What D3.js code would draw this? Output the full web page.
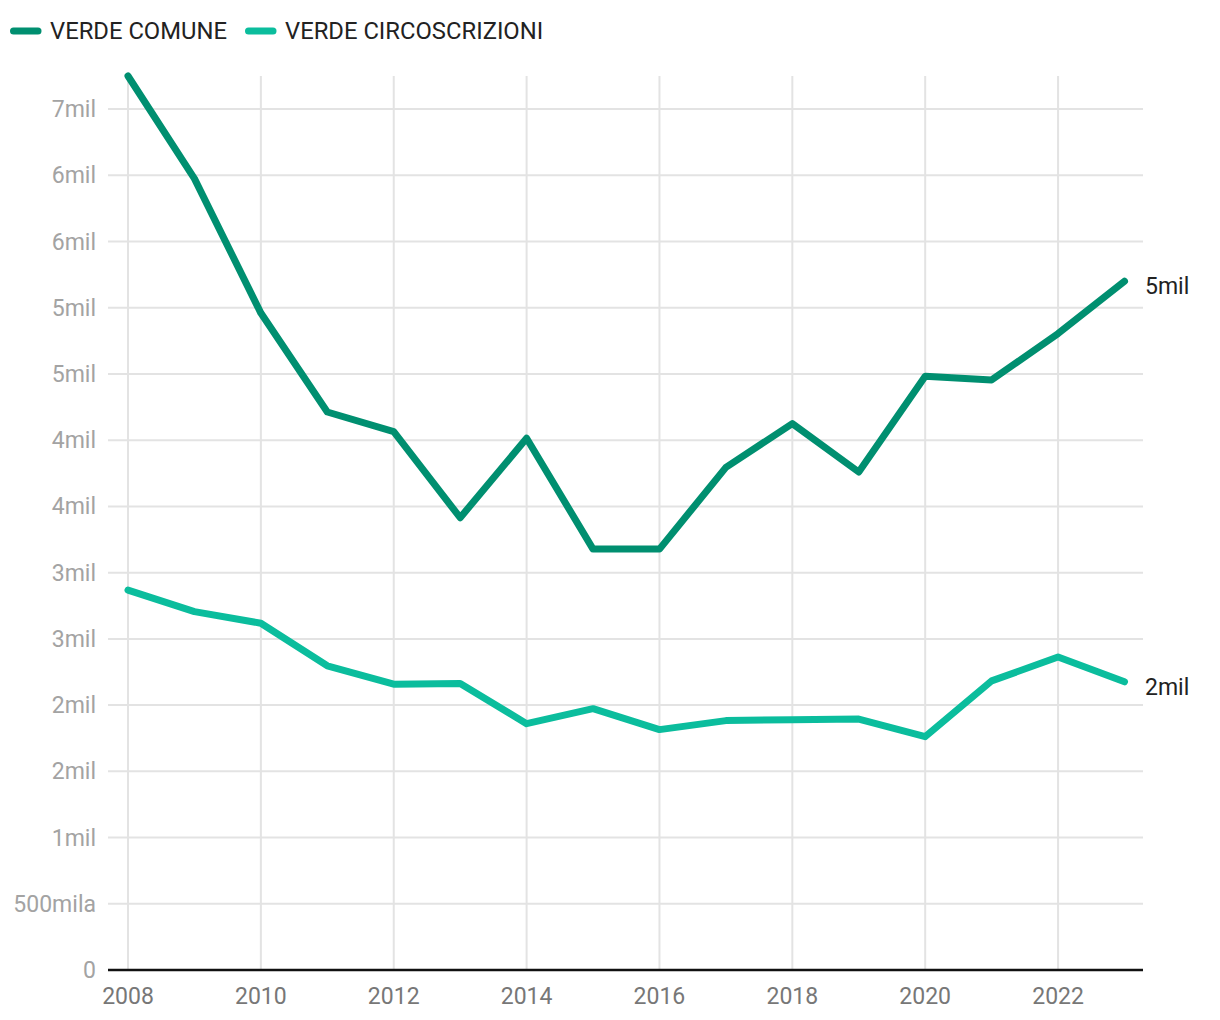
<!DOCTYPE html>
<html lang="it">
<head>
  <meta charset="UTF-8">
  <title>Verde comune e circoscrizioni</title>
  <style>
    body { margin: 0; background: #fff; font-family: Roboto, "Noto Sans", sans-serif; }
    .grid line { stroke: #e3e3e3; stroke-width: 2; }
    .ylab { fill: #a3a3a3; font-size: 23px; }
    .xlab { fill: #777; font-size: 23px; }
    .legend text { fill: #222; font-size: 23.8px; }
    .endlab { fill: #222; font-size: 23px; }
  </style>
  <script src="https://d3js.org/d3.v7.min.js"></script>
</head>
<body>
  <div id="chart"></div>
  <script>
    // anni
    var years = [2008, 2009, 2010, 2011, 2012, 2013, 2014, 2015, 2016, 2017, 2018, 2019, 2020, 2021, 2022, 2023];

    // valori in migliaia
    var verdeComune = [6750, 5975, 4960, 4213, 4065, 3415, 4015, 3178, 3178, 3795, 4125, 3760, 4483, 4455, 4805, 5200];
    var verdeCircoscrizioni = [2868, 2706, 2618, 2297, 2158, 2164, 1860, 1973, 1815, 1883, 1890, 1895, 1762, 2183, 2363, 2176];

    var seriesNames = ["VERDE COMUNE", "VERDE CIRCOSCRIZIONI"];
    var colors = ["#008f70", "#0bbd9d"];
    var yTicks = [0, 500, 1000, 1500, 2000, 2500, 3000, 3500, 4000, 4500, 5000, 5500, 6000, 6500];
    var xTicks = [2008, 2010, 2012, 2014, 2016, 2018, 2020, 2022];

    var W = 1220, H = 1020;
    var plotLeft = 108, plotRight = 1143, plotTop = 76, plotBottom = 970;

    var svg = d3.select("#chart").append("svg")
      .attr("width", W)
      .attr("height", H);

    var x = d3.scaleLinear().domain([2008, 2023]).range([128, 1124.5]);
    var y = d3.scaleLinear()
      .domain([0, d3.max(verdeComune.concat(verdeCircoscrizioni))])
      .range([plotBottom, plotTop]);

    function fmt(v) {
      if (v === 0) return "0";
      if (v < 1000) return v + "mila";
      return Math.round(v / 1000) + "mil";
    }

    // griglia
    var grid = svg.append("g").attr("class", "grid");
    grid.selectAll(".h").data(yTicks.slice(1)).enter().append("line")
      .attr("x1", plotLeft).attr("x2", plotRight)
      .attr("y1", function(d) { return y(d); })
      .attr("y2", function(d) { return y(d); });
    grid.selectAll(".v").data(xTicks).enter().append("line")
      .attr("x1", function(d) { return x(d); })
      .attr("x2", function(d) { return x(d); })
      .attr("y1", plotTop).attr("y2", plotBottom);

    // etichette asse y
    svg.append("g").selectAll("text").data(yTicks).enter().append("text")
      .attr("class", "ylab")
      .attr("x", 96)
      .attr("y", function(d) { return y(d); })
      .attr("dy", "0.35em")
      .attr("text-anchor", "end")
      .text(fmt);

    // asse x
    svg.append("line")
      .attr("x1", plotLeft).attr("x2", plotRight)
      .attr("y1", plotBottom).attr("y2", plotBottom)
      .attr("stroke", "#111").attr("stroke-width", 2.5);

    svg.append("g").selectAll("text").data(xTicks).enter().append("text")
      .attr("class", "xlab")
      .attr("x", function(d) { return x(d); })
      .attr("y", 1004)
      .attr("text-anchor", "middle")
      .text(function(d) { return d; });

    // linee
    var line = d3.line()
      .x(function(d, i) { return x(years[i]); })
      .y(function(d) { return y(d); });

    [verdeComune, verdeCircoscrizioni].forEach(function(vals, k) {
      svg.append("path")
        .datum(vals)
        .attr("fill", "none")
        .attr("stroke", colors[k])
        .attr("stroke-width", 7)
        .attr("stroke-linecap", "round")
        .attr("stroke-linejoin", "round")
        .attr("d", line);

      var last = vals[vals.length - 1];
      svg.append("text")
        .attr("class", "endlab")
        .attr("x", 1145)
        .attr("y", y(last) + 5)
        .attr("dy", "0.35em")
        .text(fmt(last));
    });

    // legenda
    var lg = svg.append("g").attr("class", "legend");
    var lx = [10, 245];
    seriesNames.forEach(function(name, k) {
      lg.append("line")
        .attr("x1", lx[k] + 3.5).attr("x2", lx[k] + 28)
        .attr("y1", 31).attr("y2", 31)
        .attr("stroke", colors[k])
        .attr("stroke-width", 7)
        .attr("stroke-linecap", "round");
      lg.append("text")
        .attr("x", lx[k] + 40)
        .attr("y", 31)
        .attr("dy", "0.35em")
        .text(name);
    });
  </script>
</body>
</html>
